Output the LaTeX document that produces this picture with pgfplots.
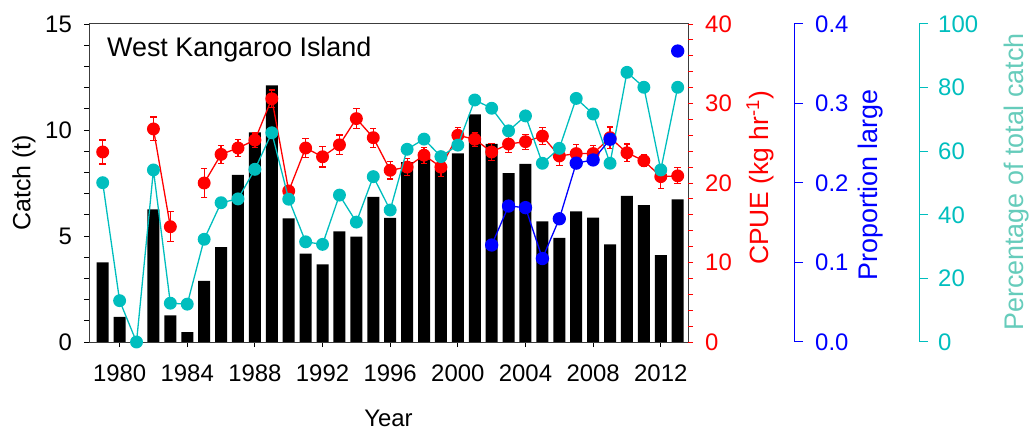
\documentclass[border=0pt]{standalone}
\usepackage{pgfplots}
\pgfplotsset{compat=1.18}
\usepackage{pgfplotstable}
\usepackage{fontspec}
\setmainfont{Liberation Sans}
\definecolor{myred}{RGB}{255,0,0}
\definecolor{myblue}{RGB}{0,0,255}
\definecolor{mycyan}{RGB}{0,190,190}
\definecolor{labcyan}{RGB}{102,204,187}
\definecolor{framec}{RGB}{60,60,60}
\newcommand{\tfont}{\fontsize{24}{28}\selectfont}

\pgfplotstableread{
year catch
1979 3.76
1980 1.19
1981 0
1982 6.26
1983 1.26
1984 0.47
1985 2.88
1986 4.48
1987 7.88
1988 9.89
1989 12.1
1990 5.83
1991 4.17
1992 3.66
1993 5.22
1994 4.97
1995 6.84
1996 5.85
1997 8.49
1998 8.74
1999 8.16
2000 8.90
2001 10.74
2002 9.34
2003 7.97
2004 8.40
2005 5.69
2006 4.91
2007 6.16
2008 5.87
2009 4.61
2010 6.89
2011 6.46
2012 4.10
2013 6.73
}\catchtab

\pgfplotstableread{
year cpue err
1979 23.9 1.5
1980 nan 0
1981 nan 0
1982 26.8 1.5
1983 14.5 1.9
1984 nan 0
1985 20.0 1.8
1986 23.6 1.15
1987 24.4 1.1
1988 25.4 0.9
1989 30.6 1.1
1990 19.0 0.7
1991 24.4 1.15
1992 23.3 1.3
1993 24.8 1.25
1994 28.1 1.25
1995 25.7 1.2
1996 21.6 1.1
1997 22.0 1.1
1998 23.5 1.0
1999 22.0 1.2
2000 26.0 0.95
2001 25.5 0.9
2002 23.9 1.1
2003 24.9 1.1
2004 25.2 0.95
2005 25.9 1.1
2006 23.4 1.2
2007 23.7 1.1
2008 23.7 1.0
2009 25.7 1.35
2010 23.8 1.1
2011 22.8 0.75
2012 20.8 1.5
2013 20.9 1.0
}\cpuetab

\pgfplotstableread{
year prop
2002 0.122
2003 0.171
2004 0.169
2005 0.105
2006 0.155
2007 0.225
2008 0.229
2009 0.255
2010 nan
2013 0.366
}\proptab

\pgfplotstableread{
year pct
1979 50.1
1980 13.0
1981 0
1982 54.1
1983 12.2
1984 11.9
1985 32.3
1986 43.8
1987 45.0
1988 54.3
1989 65.8
1990 44.9
1991 31.5
1992 30.7
1993 46.2
1994 37.7
1995 52.0
1996 41.5
1997 60.6
1998 63.8
1999 58.3
2000 61.9
2001 76.1
2002 73.5
2003 66.4
2004 71.1
2005 56.2
2006 60.9
2007 76.6
2008 71.7
2009 56.2
2010 84.8
2011 80.1
2012 54.1
2013 80.1
}\pcttab

\pgfplotsset{
  base/.style={
    at={(89bp,90bp)}, anchor=south west, scale only axis,
    width=599bp, height=318bp,
    xmin=1978.19, xmax=2013.61,
    tick label style={font=\tfont},
    /pgf/number format/assume math mode=true,
    tick align=outside,
    major tick length=5bp, minor tick length=5bp,
    unbounded coords=jump,
  },
  hidden/.style={base, hide x axis, hide y axis},
}

\begin{document}
\begin{tikzpicture}
\useasboundingbox (0,0) rectangle (1032bp,432bp);

% Catch bars
\begin{axis}[base,
  ymin=0, ymax=15, ytick={0,5,10,15}, minor y tick num=4,
  xtick={1980,1984,...,2012}, minor x tick num=3,
  xtick pos=bottom, ytick pos=left,
  x tick label style={/pgf/number format/1000 sep={}},
  axis line style={framec, line width=1bp},
  tick style={black, line width=0.9bp},
  xticklabel style={inner sep=0pt}, xticklabel shift=18bp,
  yticklabel style={inner sep=0pt}, yticklabel shift=12bp,
  xlabel={Year}, ylabel={Catch (t)},
  xlabel style={font=\fontsize{24}{28}\selectfont, at={(axis description cs:0.5,-0.265)}, anchor=base},
  ylabel style={font=\fontsize{25}{29}\selectfont, at={(axis description cs:-0.1085,0.5)}, anchor=center},
]
\addplot[ybar, bar width=12bp, fill=black, draw=none] table[x=year, y=catch] {\catchtab};
\node[anchor=base west, font=\fontsize{27}{31}\selectfont, inner sep=0pt] at (axis description cs:0.03,0.899) {West Kangaroo Island};
\end{axis}

% CPUE
\begin{axis}[base, hide x axis,
  ymin=0, ymax=40, ytick={0,10,...,40}, minor y tick num=4,
  axis y line*=right, y axis line style={draw=none},
  tick style={myred, line width=0.9bp},
  yticklabel style={myred, inner sep=0pt}, yticklabel shift=12bp,
  ylabel={CPUE (kg hr\textsuperscript{-1})},
  ylabel style={myred, font=\fontsize{26.5}{30}\selectfont, at={(axis description cs:1.12,0.516)}, anchor=center},
  clip=false,
]
\addplot[myred, line width=1.3bp, mark=*, mark size=5.8bp,
  error bars/.cd, y dir=both, y explicit,
  error bar style={myred, line width=1.2bp},
  error mark options={rotate=90, mark size=3.2bp, line width=1.2bp, myred}]
  table[x=year, y=cpue, y error=err] {\cpuetab};
\end{axis}

% Percentage data
\begin{axis}[hidden, ymin=0, ymax=100, clip=false]
\addplot[mycyan, line width=1.3bp, mark=*, mark size=5.8bp] table[x=year, y=pct] {\pcttab};
\end{axis}

% Proportion data
\begin{axis}[hidden, ymin=0, ymax=0.4, clip=false]
\addplot[myblue, line width=1.3bp, mark=*, mark size=6bp] table[x=year, y=prop] {\proptab};
\end{axis}

% Proportion axis
\begin{axis}[base, at={(195bp,90bp)}, hide x axis,
  ymin=0, ymax=0.4, ytick={0,0.1,...,0.4},
  axis y line*=right,
  y axis line style={myblue, line width=1bp},
  major tick length=9bp,
  tick style={myblue, line width=1bp},
  yticklabel style={myblue, inner sep=0pt, /pgf/number format/.cd, fixed, fixed zerofill, precision=1}, yticklabel shift=12bp,
  ylabel={Proportion large},
  ylabel style={myblue, font=\fontsize{27}{31}\selectfont, at={(axis description cs:1.127,0.494)}, anchor=center},
]
\addplot[draw=none] coordinates {(2000,0.1)};
\end{axis}

% Percentage axis
\begin{axis}[base, at={(320bp,90bp)}, hide x axis,
  ymin=0, ymax=100, ytick={0,20,...,100},
  axis y line*=right,
  y axis line style={mycyan, line width=1bp},
  major tick length=9bp,
  tick style={mycyan, line width=1bp},
  yticklabel style={mycyan, inner sep=0pt}, yticklabel shift=10bp,
  ylabel={Percentage of total catch},
  ylabel style={labcyan, font=\fontsize{27}{31}\selectfont, at={(axis description cs:1.162,0.503)}, anchor=center},
]
\addplot[draw=none] coordinates {(2000,10)};
\end{axis}
\end{tikzpicture}
\end{document}
